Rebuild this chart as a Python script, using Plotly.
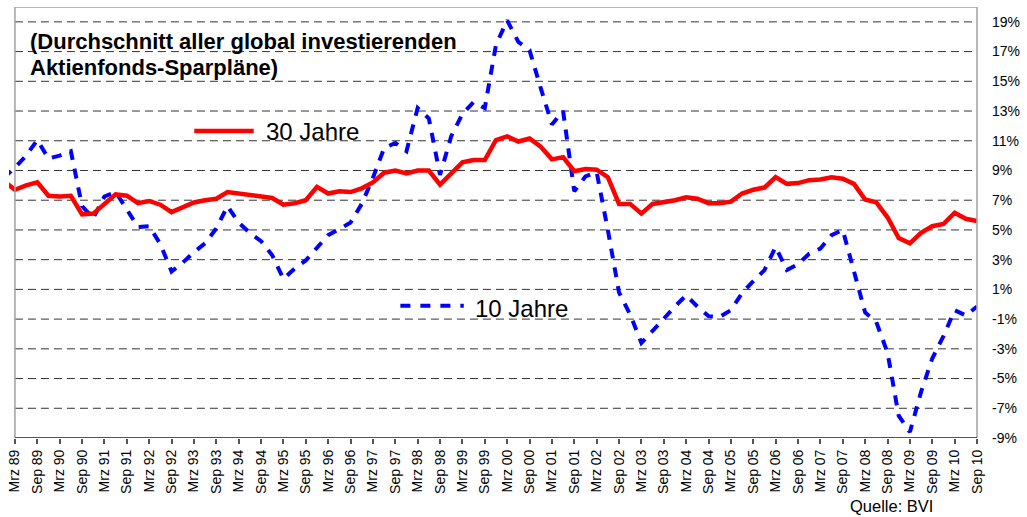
import plotly.graph_objects as go

# ---------------- data ----------------
years = ["88", "89", "90", "91", "92", "93", "94", "95", "96", "97", "98", "99",
         "00", "01", "02", "03", "04", "05", "06", "07", "08", "09", "10"]
months = ["Mrz", "Jun", "Sep", "Dez"]

# quarterly categories Dez 88 ... Sep 10
quarters = ["Dez 88"] + [f"{m} {y}" for y in years[1:] for m in months][:-1]

# tick labels (half-yearly)
tick_labels = [q for q in quarters if q.startswith("Mrz") or q.startswith("Sep")]

# 30-year savings plans (% p.a.)
jahre30 = [8.3, 7.7, 8.0, 8.2, 7.3, 7.25, 7.3, 6.05, 6.1, 6.75,
           7.4, 7.3, 6.8, 6.95, 6.7, 6.2, 6.5, 6.85, 7.0, 7.1,
           7.55, 7.45, 7.35, 7.3, 7.15, 6.7, 6.8, 7.0, 7.9, 7.45,
           7.6, 7.55, 7.8, 8.2, 8.85, 9.0, 8.8, 9.0, 9.0, 8.05,
           8.8, 9.55, 9.7, 9.7, 11.05, 11.3, 10.95, 11.15, 10.6, 9.75,
           9.9, 8.95, 9.1, 9.05, 8.55, 6.75, 6.75, 6.1, 6.75, 6.85,
           7.0, 7.2, 7.1, 6.8, 6.8, 6.9, 7.45, 7.7, 7.85, 8.55,
           8.1, 8.15, 8.35, 8.4, 8.55, 8.45, 8.1, 7.05, 6.85, 5.85,
           4.45, 4.1, 4.8, 5.25, 5.4, 6.15, 5.75, 5.6]

# 10-year savings plans (% p.a.)
jahre10 = [8.5, 9.2, 10.0, 11.05, 9.8, 10.0, 10.3, 6.6, 5.8, 7.25,
           7.55, 6.4, 5.2, 5.25, 4.05, 2.2, 2.8, 3.5, 4.1, 5.1,
           6.6, 5.5, 4.8, 4.25, 3.3, 1.7, 2.4, 2.95, 3.85, 4.65,
           5.05, 5.5, 6.75, 8.5, 10.5, 10.85, 10.3, 13.2, 12.5, 8.7,
           11.3, 12.8, 13.6, 13.2, 17.45, 19.1, 17.65, 17.1, 14.55, 12.1,
           13.0, 7.6, 8.6, 8.9, 5.0, 0.8, -0.7, -2.6, -1.8, -0.95,
           -0.15, 0.6, -0.15, -0.8, -0.85, -0.4, 0.75, 1.55, 2.3, 3.85,
           2.3, 2.7, 3.4, 3.75, 4.65, 5.0, 2.3, -0.55, -1.2, -3.25,
           -7.5, -8.6, -5.9, -3.65, -2.15, -0.4, -0.75, -0.15]

y_ticks = [-9, -7, -5, -3, -1, 1, 3, 5, 7, 9, 11, 13, 15, 17, 19]
y_ticktext = [f"{v}%" for v in y_ticks]

title_lines = ["(Durchschnitt aller global investierenden", "Aktienfonds-Sparpläne)"]
source_text = "Quelle: BVI"

# ---------------- layout geometry ----------------
W, H = 1027, 517
ML, MR, MT, MB = 8, 42, 7, 79
PW, PH = W - ML - MR, H - MT - MB
X_RANGE = [0.47, len(quarters) - 1]
Y_RANGE = [-9, 20]
FONT = "Liberation Sans, Arial, sans-serif"


def px_x(p):
    return (p - ML) / PW


def px_y(p):
    return (H - MB - p) / PH


def idx_paper(i):
    return (i - X_RANGE[0]) / (X_RANGE[1] - X_RANGE[0])


fig = go.Figure()
fig.add_trace(go.Scatter(x=quarters, y=jahre10, mode="lines", name="10 Jahre",
                         line=dict(color="#0000FF", width=4, dash="10px,9px")))
fig.add_trace(go.Scatter(x=quarters, y=jahre30, mode="lines", name="30 Jahre",
                         line=dict(color="#FF0000", width=4.5)))

left_p = idx_paper(1)
shapes = []
for v in y_ticks[1:]:
    shapes.append(dict(type="line", xref="paper", yref="y", x0=left_p, x1=1, y0=v, y1=v,
                       line=dict(color="#333333", width=1, dash="8px,5px"), layer="below"))
# frame
shapes.append(dict(type="line", xref="paper", yref="y", x0=left_p, x1=left_p, y0=-9, y1=20,
                   line=dict(color="#A0A0A0", width=1.5)))
shapes.append(dict(type="line", xref="paper", yref="y", x0=1, x1=1, y0=-9, y1=20,
                   line=dict(color="#A0A0A0", width=1.5)))
shapes.append(dict(type="line", xref="paper", yref="y", x0=left_p, x1=1, y0=20, y1=20,
                   line=dict(color="#A0A0A0", width=1.5)))
shapes.append(dict(type="line", xref="paper", yref="y", x0=left_p, x1=1, y0=-9, y1=-9,
                   line=dict(color="#555555", width=2)))
# legend samples
shapes.append(dict(type="line", xref="paper", yref="paper", x0=px_x(195), x1=px_x(255),
                   y0=px_y(131), y1=px_y(131), line=dict(color="#FF0000", width=4.5)))
shapes.append(dict(type="line", xref="paper", yref="paper", x0=px_x(403), x1=px_x(467),
                   y0=px_y(305.7), y1=px_y(305.7),
                   line=dict(color="#0000FF", width=4, dash="10px,10px")))

annotations = [
    dict(text="<b>" + title_lines[0] + "</b>", x=px_x(27), y=px_y(41.6),
         font=dict(size=22, family=FONT, color="black")),
    dict(text="<b>" + title_lines[1] + "</b>", x=px_x(27), y=px_y(67.3),
         font=dict(size=22, family=FONT, color="black")),
    dict(text="30 Jahre", x=px_x(265), y=px_y(131.6), font=dict(size=24, family=FONT, color="black")),
    dict(text="10 Jahre", x=px_x(476), y=px_y(308.3), font=dict(size=24, family=FONT, color="black")),
    dict(text=source_text, x=px_x(855), y=px_y(506), font=dict(size=16.5, family=FONT, color="black")),
]
for a in annotations:
    a.update(xref="paper", yref="paper", xanchor="left", yanchor="middle", showarrow=False)

fig.update_layout(
    width=W, height=H,
    margin=dict(l=ML, r=MR, t=MT, b=MB, pad=0),
    paper_bgcolor="white", plot_bgcolor="white",
    showlegend=False,
    font=dict(family=FONT, size=14, color="black"),
    shapes=shapes, annotations=annotations,
    xaxis=dict(type="category", range=X_RANGE, tickmode="array",
               tickvals=tick_labels, ticktext=tick_labels, tickangle=-90,
               ticks="outside", ticklen=5, tickwidth=1.5, tickcolor="#555555",
               showgrid=False, zeroline=False, showline=False,
               tickfont=dict(size=14, family=FONT, color="black")),
    yaxis=dict(range=Y_RANGE, side="right", tickmode="array",
               tickvals=y_ticks, ticktext=y_ticktext,
               ticks="", showgrid=False, zeroline=False, showline=False,
               ticklabelstandoff=14,
               tickfont=dict(size=14, family=FONT, color="black")),
)

fig.write_html("out.html", config={"displayModeBar": False},
               post_script="document.body.style.margin='0';")
